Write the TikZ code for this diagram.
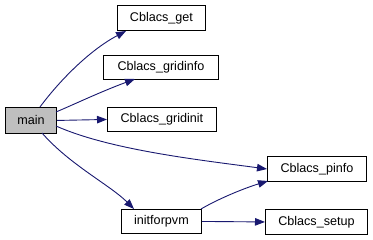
\documentclass[tikz,border=0pt]{standalone}
\usepackage{fontspec}
\setmainfont{Liberation Sans}
\usetikzlibrary{arrows.meta}
\definecolor{edgeblue}{HTML}{191970}
\begin{document}
\begin{tikzpicture}[x=1pt,y=-1pt,
  fn/.style={draw=black,line width=0.9pt,fill=white,inner sep=0pt,
    font=\fontsize{12.6}{14}\selectfont,anchor=north west},
  call/.style={draw=edgeblue,line width=0.9pt,-{Triangle[length=10pt,width=7.5pt]}}]
\useasboundingbox (0,0) rectangle (373,240);
\node[fn,fill={rgb,255:red,191;green,191;blue,191},minimum width=51pt,minimum height=26pt] (main) at (5,107) {main};
\node[fn,minimum width=88pt,minimum height=25pt] (get) at (117,5) {Cblacs\_get};
\node[fn,minimum width=115pt,minimum height=24pt] (ginfo) at (103,55) {Cblacs\_gridinfo};
\node[fn,minimum width=109pt,minimum height=24pt] (ginit) at (107,107) {Cblacs\_gridinit};
\node[fn,minimum width=80pt,minimum height=24pt] (pvm) at (121,209) {initforpvm};
\node[fn,minimum width=99pt,minimum height=25pt] (pinfo) at (267,156) {Cblacs\_pinfo};
\node[fn,minimum width=102pt,minimum height=25pt] (setup) at (265,209) {Cblacs\_setup};
% free ends on the box outlines
\coordinate (m1) at (40,107);
\coordinate (m2) at (56,112);
\coordinate (m3) at (56,126);
\coordinate (m4) at (42,133);
\coordinate (p1) at (201,209);
\coordinate (t1) at (126,31);
\coordinate (t2) at (135,79);
\coordinate (t3) at (134,209);
\coordinate (t4) at (267,169);
\coordinate (t5) at (268,181);
\draw[call] (m1) .. controls (60,80) and (90,50) .. (t1);
\draw[call] (m2) .. controls (75,104) and (100,92) .. (t2);
\draw[call] (main.east) -- (ginit.west);
\draw[call] (m3) .. controls (110,150) and (200,160) .. (t4);
\draw[call] (m4) .. controls (70,165) and (110,185) .. (t3);
\draw[call] (p1) .. controls (220,198) and (245,188) .. (t5);
\draw[call] (pvm.east) -- (setup.west);
\end{tikzpicture}
\end{document}
